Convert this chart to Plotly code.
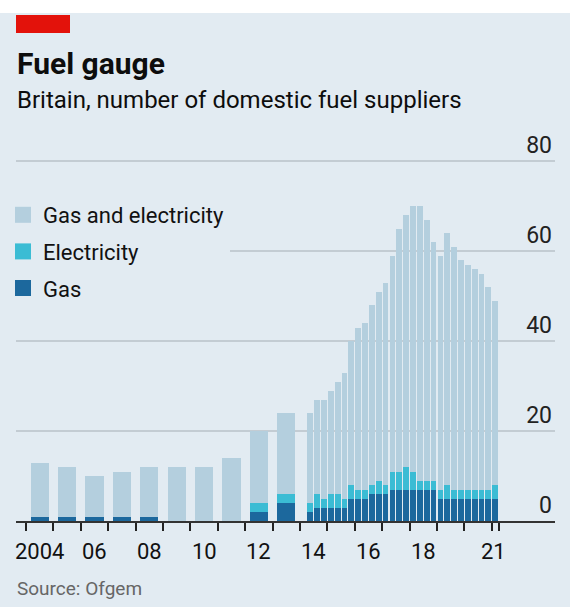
import plotly.graph_objects as go

# --- data -------------------------------------------------------------
# annual figures 2004-2013
anos = [2004, 2005, 2006, 2007, 2008, 2009, 2010, 2011, 2012, 2013]
gas_anual = [1, 1, 1, 1, 1, 0, 0, 0, 2, 4]
elec_anual = [0, 0, 0, 0, 0, 0, 0, 0, 2, 2]
dual_anual = [12, 11, 9, 10, 11, 12, 12, 14, 16, 18]

# quarterly figures from 2014 Q2
trimestres = [
    "2014Q2", "2014Q3", "2014Q4",
    "2015Q1", "2015Q2", "2015Q3", "2015Q4",
    "2016Q1", "2016Q2", "2016Q3", "2016Q4",
    "2017Q1", "2017Q2", "2017Q3", "2017Q4",
    "2018Q1", "2018Q2", "2018Q3", "2018Q4",
    "2019Q1", "2019Q2", "2019Q3", "2019Q4",
    "2020Q1", "2020Q2", "2020Q3", "2020Q4",
    "2021Q1",
]
gas_trim = [2, 3, 3, 3, 3, 3, 5, 5, 5, 6, 6, 6, 7, 7, 7, 7, 7, 7, 7, 5, 5, 5, 5, 5, 5, 5, 5, 5]
elec_trim = [2, 3, 2, 3, 3, 2, 3, 2, 2, 2, 3, 2, 4, 4, 5, 4, 2, 2, 2, 2, 3, 2, 2, 2, 2, 2, 2, 3]
dual_trim = [20, 21, 22, 23, 25, 28, 32, 36, 37, 40, 42, 45, 48, 54, 56, 59, 61, 58, 53, 52,
             56, 54, 51, 50, 49, 48, 45, 41]

rotulos_x = ["2004", "06", "08", "10", "12", "14", "16", "18", "21"]
anos_rotulo = [2004, 2006, 2008, 2010, 2012, 2014, 2016, 2018, 2021]
y_ticks = [0, 20, 40, 60, 80]

# --- style --------------------------------------------------------------
FUNDO = "#e2ebf2"
COR_DUAL = "#b4cfde"
COR_ELEC = "#3bbcd4"
COR_GAS = "#1c689d"
FONTE = "Roboto"

W, H = 570, 607
ML, MR, MT, MB = 16, 15, 116, 86
PW = W - ML - MR
PH = H - MT - MB


def px_x(px):
    return (px - ML) / PW


def px_y(py):
    return (H - MB - py) / PH


def pos_trimestre(t):
    return int(t[:4]) + (int(t[-1]) - 0.5) / 4


x_anual = [a + 0.5 for a in anos]
x_trim = [pos_trimestre(t) for t in trimestres]
x_todos = x_anual + x_trim
larguras = [0.66] * len(anos) + [0.21] * len(trimestres)

fig = go.Figure()
series = [
    ("Gas", gas_anual + gas_trim, COR_GAS, 3),
    ("Electricity", elec_anual + elec_trim, COR_ELEC, 2),
    ("Gas and electricity", dual_anual + dual_trim, COR_DUAL, 1),
]
for nome, valores, cor, rank in series:
    fig.add_trace(go.Bar(
        x=x_todos,
        y=valores,
        width=larguras,
        name=nome,
        showlegend=False,
        marker=dict(color=cor, line=dict(width=0)),
        hoverinfo="skip",
    ))
    # legend entry with a bigger square swatch
    fig.add_trace(go.Scatter(
        x=[None], y=[None], mode="markers", name=nome,
        legendgroup=nome, legendrank=rank,
        marker=dict(symbol="square", size=17, color=cor),
    ))

fig.update_layout(
    width=W,
    height=H,
    margin=dict(l=ML, r=MR, t=MT, b=MB, autoexpand=False),
    paper_bgcolor=FUNDO,
    plot_bgcolor=FUNDO,
    barmode="stack",
    font=dict(family=FONTE, color="#111111", size=20),
    showlegend=True,
    legend=dict(
        x=px_x(3), y=px_y(194), xanchor="left", yanchor="top",
        bgcolor=FUNDO,
        traceorder="grouped",
        tracegroupgap=5,
        itemsizing="trace",
        font=dict(family=FONTE, size=22, color="#111111"),
        itemclick=False,
    ),
    xaxis=dict(
        range=[2003.635, 2023.307],
        tickvals=list(range(2004, 2022)) + [2021.25],
        ticks="outside", ticklen=8, tickwidth=1.5, tickcolor="#222222",
        showticklabels=False,
        showgrid=False, zeroline=False,
        showline=True, linecolor="#333333", linewidth=1.5,
    ),
    yaxis=dict(
        range=[0, 90],
        side="right",
        tickvals=y_ticks,
        ticklabelposition="inside top",
        tickfont=dict(family=FONTE, size=23, color="#222222"),
        showgrid=True, gridcolor="#c3ccd3", gridwidth=2,
        zeroline=False, ticks="",
    ),
)

# year labels sit between the boundary ticks
for ano, rotulo in zip(anos_rotulo, rotulos_x):
    fig.add_annotation(text=rotulo, xref="x", yref="paper",
                       x=ano + 0.5 if ano < 2021 else ano + 0.06, y=px_y(551),
                       xanchor="center", yanchor="middle", showarrow=False,
                       font=dict(family=FONTE, size=22, color="#111111"))

# header: white strip and red tag
fig.add_shape(type="rect", xref="paper", yref="paper",
              x0=px_x(0), x1=px_x(W), y0=px_y(13), y1=px_y(0),
              fillcolor="white", line=dict(width=0), layer="below")
fig.add_shape(type="rect", xref="paper", yref="paper",
              x0=px_x(16), x1=px_x(70), y0=px_y(33), y1=px_y(15),
              fillcolor="#e3120b", line=dict(width=0))

fig.add_annotation(text="<b>Fuel gauge</b>", xref="paper", yref="paper",
                   x=px_x(15), y=px_y(64), xanchor="left", yanchor="middle",
                   showarrow=False, font=dict(family=FONTE, size=30, color="#0d0d0d"))
fig.add_annotation(text="Britain, number of domestic fuel suppliers", xref="paper", yref="paper",
                   x=px_x(15), y=px_y(100), xanchor="left", yanchor="middle",
                   showarrow=False, font=dict(family=FONTE, size=24, color="#0d0d0d"))
fig.add_annotation(text="Source: Ofgem", xref="paper", yref="paper",
                   x=px_x(15), y=px_y(588), xanchor="left", yanchor="middle",
                   showarrow=False, font=dict(family=FONTE, size=19, color="#666666"))

fig.write_html("out.html", config={"displayModeBar": False},
               post_script="document.body.style.margin='0';")
